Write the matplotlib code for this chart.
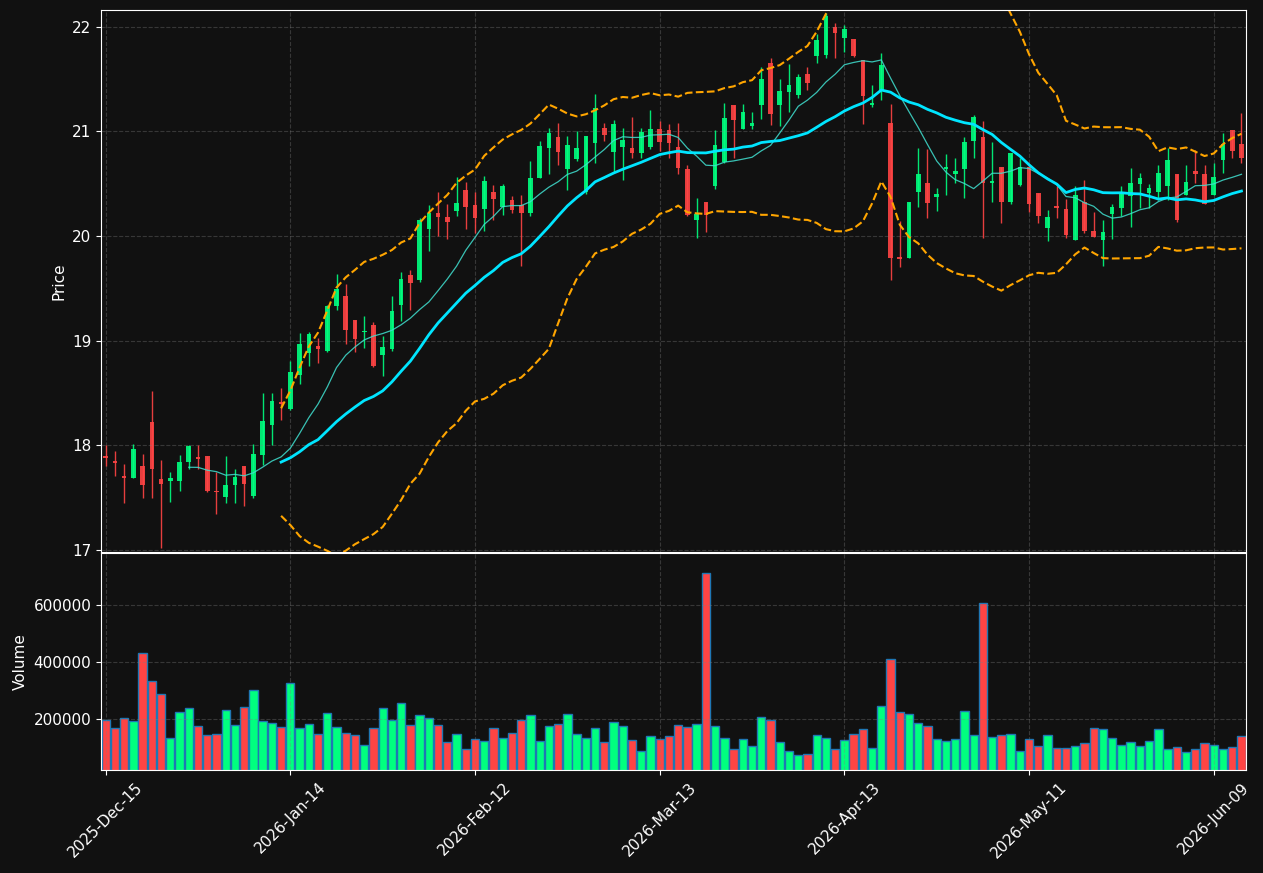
import numpy as np
import pandas as pd
import matplotlib
matplotlib.use("Agg")
import matplotlib.pyplot as plt

# OHLC, one entry per trading day
opens = [17.90, 17.85, 17.71, 17.69, 17.80, 18.22, 17.68, 17.66, 17.66, 17.84,
         17.89, 17.90, 17.56, 17.51, 17.62, 17.80, 17.52, 17.91, 18.19, 18.41,
         18.35, 18.67, 18.88, 18.95, 18.90, 19.33, 19.43, 19.20, 19.08, 19.15,
         18.86, 18.92, 19.34, 19.63, 19.58, 20.07, 20.22, 20.18, 20.24, 20.44,
         20.30, 20.26, 20.42, 20.28, 20.34, 20.30, 20.22, 20.55, 20.84, 20.95,
         20.64, 20.74, 20.42, 20.89, 21.03, 20.80, 20.85, 20.84, 20.79, 20.85,
         21.02, 21.01, 20.85, 20.64, 20.15, 20.33, 20.48, 20.71, 21.25, 21.02,
         21.05, 21.25, 21.65, 21.25, 21.38, 21.35, 21.55, 21.72, 21.73, 22.00,
         21.89, 21.88, 21.68, 21.25, 21.40, 21.08, 19.80, 19.79, 20.42, 20.51,
         20.37, 20.64, 20.59, 20.64, 20.91, 20.95, 20.51, 20.66, 20.33, 20.49,
         20.66, 20.41, 20.08, 20.29, 20.26, 19.96, 20.33, 20.05, 19.96, 20.21,
         20.27, 20.38, 20.50, 20.41, 20.42, 20.48, 20.59, 20.39, 20.62, 20.59,
         20.39, 20.73, 21.01, 20.88]
highs = [18.00, 17.95, 17.82, 18.01, 17.92, 18.52, 17.86, 17.74, 17.91, 18.00,
         18.00, 17.90, 17.74, 17.90, 17.77, 17.80, 18.01, 18.50, 18.50, 18.55,
         18.81, 19.07, 19.08, 19.03, 19.34, 19.64, 19.54, 19.20, 19.24, 19.18,
         19.04, 19.43, 19.66, 19.68, 20.17, 20.30, 20.42, 20.31, 20.56, 20.52,
         20.42, 20.57, 20.49, 20.50, 20.38, 20.39, 20.72, 20.91, 21.03, 21.08,
         20.96, 21.00, 20.96, 21.36, 21.08, 21.11, 21.03, 21.14, 21.03, 21.20,
         21.10, 21.07, 21.08, 20.68, 20.36, 20.33, 21.01, 21.27, 21.25, 21.26,
         21.19, 21.62, 21.70, 21.50, 21.64, 21.55, 21.62, 21.93, 22.13, 22.04,
         22.02, 21.88, 21.68, 21.44, 21.75, 21.26, 20.14, 20.33, 20.84, 20.83,
         20.46, 20.78, 20.75, 20.95, 21.16, 21.10, 20.90, 20.66, 20.79, 20.75,
         20.69, 20.41, 20.25, 20.48, 20.35, 20.48, 20.54, 20.23, 20.15, 20.31,
         20.48, 20.65, 20.60, 20.50, 20.68, 20.84, 20.59, 20.68, 20.82, 20.68,
         20.70, 20.98, 21.01, 21.18]
lows = [17.80, 17.71, 17.45, 17.69, 17.50, 17.50, 17.02, 17.46, 17.56, 17.77,
        17.77, 17.55, 17.34, 17.45, 17.45, 17.42, 17.50, 17.81, 18.00, 18.24,
        18.34, 18.59, 18.76, 18.79, 18.89, 19.29, 18.97, 18.89, 18.93, 18.75,
        18.66, 18.90, 19.19, 19.29, 19.56, 19.86, 20.00, 19.97, 20.19, 20.07,
        20.03, 20.05, 20.15, 20.20, 20.22, 19.71, 20.19, 20.55, 20.59, 20.68,
        20.44, 20.72, 20.40, 20.70, 20.91, 20.61, 20.54, 20.75, 20.75, 20.83,
        20.81, 20.75, 20.59, 20.19, 19.98, 20.04, 20.45, 20.70, 20.75, 21.02,
        21.02, 21.12, 21.06, 21.05, 21.19, 21.32, 21.40, 21.65, 21.70, 21.70,
        21.76, 21.71, 21.07, 21.23, 21.30, 19.58, 19.70, 19.79, 20.28, 20.17,
        20.24, 20.39, 20.51, 20.36, 20.75, 19.98, 20.33, 20.12, 20.31, 20.48,
        20.23, 20.12, 19.95, 20.17, 19.98, 19.96, 20.03, 19.99, 19.71, 19.97,
        20.19, 20.09, 20.27, 20.27, 20.34, 20.34, 20.13, 20.39, 20.51, 20.31,
        20.39, 20.60, 20.75, 20.70]
closes = [17.88, 17.83, 17.69, 17.96, 17.62, 17.77, 17.63, 17.69, 17.84, 17.99,
          17.87, 17.56, 17.55, 17.62, 17.70, 17.63, 17.92, 18.23, 18.42, 18.39,
          18.70, 18.97, 19.06, 18.92, 19.33, 19.49, 19.10, 19.02, 19.09, 18.76,
          18.94, 19.28, 19.59, 19.55, 20.15, 20.22, 20.18, 20.13, 20.32, 20.28,
          20.17, 20.53, 20.35, 20.48, 20.25, 20.22, 20.55, 20.86, 20.98, 20.80,
          20.87, 20.84, 20.96, 21.22, 20.97, 21.07, 20.92, 20.79, 20.99, 21.02,
          20.90, 20.89, 20.65, 20.20, 20.21, 20.20, 20.87, 21.13, 21.11, 21.19,
          21.08, 21.50, 21.17, 21.39, 21.44, 21.52, 21.46, 21.87, 22.10, 21.94,
          21.98, 21.72, 21.34, 21.27, 21.63, 19.79, 19.78, 20.33, 20.59, 20.32,
          20.40, 20.66, 20.62, 20.90, 21.14, 20.51, 20.53, 20.33, 20.79, 20.66,
          20.31, 20.19, 20.18, 20.27, 20.01, 20.39, 20.05, 19.99, 20.04, 20.28,
          20.42, 20.51, 20.55, 20.46, 20.60, 20.73, 20.15, 20.52, 20.59, 20.31,
          20.56, 20.88, 20.81, 20.75]
volumes = [196500, 168400, 203500, 193000, 431600, 333300, 287700, 133300, 224600, 238600,
           175400, 145000, 148400, 231600, 179000, 243200, 301800, 193000, 186000, 172000,
           326300, 168400, 183500, 147400, 221100, 172000, 152000, 145000, 108800, 168400,
           238600, 196500, 256100, 179000, 214000, 203500, 179000, 119300, 148400, 94700,
           129800, 122800, 168400, 133300, 150900, 196500, 214000, 122800, 175400, 182500,
           217500, 147400, 133300, 168400, 119300, 189500, 175400, 126300, 87700, 140400,
           129800, 140400, 179000, 172000, 182500, 712300, 175400, 133300, 94700, 129800,
           105300, 207000, 196500, 119300, 87700, 73700, 77200, 143900, 133300, 94700,
           126300, 147400, 164900, 98200, 245600, 410500, 224600, 217500, 186000, 175400,
           129800, 122800, 129800, 228100, 143900, 607000, 136800, 143900, 147400, 87700,
           129800, 105300, 143900, 98200, 98200, 105300, 115800, 168400, 164900, 133300,
           108800, 119300, 105300, 122800, 164900, 94700, 101800, 84200, 94700, 115800,
           108800, 94700, 101800, 140400]
tick_labels = ["2025-Dec-15", "2026-Jan-14", "2026-Feb-12", "2026-Mar-13",
               "2026-Apr-13", "2026-May-11", "2026-Jun-09"]

df = pd.DataFrame({"Open": opens, "High": highs, "Low": lows,
                   "Close": closes, "Volume": volumes})
df["SMA10"] = df["Close"].rolling(10).mean()
df["SMA20"] = df["Close"].rolling(20).mean()
std20 = df["Close"].rolling(20).std()
df["Upper"] = df["SMA20"] + 2 * std20
df["Lower"] = df["SMA20"] - 2 * std20

up_color = "#00ff7f"
down_color = "#ff4444"
bg = "#111111"
x = np.arange(len(df))
up = df["Close"] >= df["Open"]
colors = np.where(up, up_color, down_color)

fig = plt.figure(figsize=(12.63, 8.73), dpi=100, facecolor=bg)
ax1 = fig.add_axes([0.080, 0.3677, 0.9066, 0.6208])
ax2 = fig.add_axes([0.080, 0.118, 0.9066, 0.2486], sharex=ax1)

# candles
ax1.vlines(x, df["Low"], df["High"], colors=colors, linewidth=1, alpha=0.9)
body_bottom = np.minimum(df["Open"], df["Close"])
body_height = np.maximum((df["Close"] - df["Open"]).abs(), 0.015)
ax1.bar(x, body_height, bottom=body_bottom, width=0.5, color=colors, alpha=0.9)

ax1.plot(x, df["SMA10"], color="#40e0d0", linewidth=0.9, alpha=0.85)
ax1.plot(x, df["SMA20"], color="#00e5ff", linewidth=2)
ax1.plot(x, df["Upper"], color="orange", linestyle="--", linewidth=1.5)
ax1.plot(x, df["Lower"], color="orange", linestyle="--", linewidth=1.5)

ax1.set_ylim(16.98, 22.16)
ax1.set_ylabel("Price", color="white", fontsize=11)

# volume
ax2.bar(x, df["Volume"], width=0.9, color=colors, edgecolor="#1f77b4", linewidth=1)
ax2.set_ylim(df["Volume"].min() * 0.3, df["Volume"].max() * 1.1)
ax2.set_yticks([200000, 400000, 600000])
ax2.set_ylabel("Volume", color="white", fontsize=11)

ax2.set_xlim(-0.5, len(df) - 0.5)
ax2.set_xticks(np.arange(0, len(df), 20))
ax2.set_xticklabels(tick_labels, rotation=45)

for ax in (ax1, ax2):
    ax.set_facecolor(bg)
    ax.grid(True, linestyle="--", color="gray", alpha=0.35)
    ax.tick_params(colors="white", labelsize=11)
    for s in ax.spines.values():
        s.set_color("white")
ax1.tick_params(labelbottom=False, bottom=False)

fig.savefig("out.png", facecolor=bg)
